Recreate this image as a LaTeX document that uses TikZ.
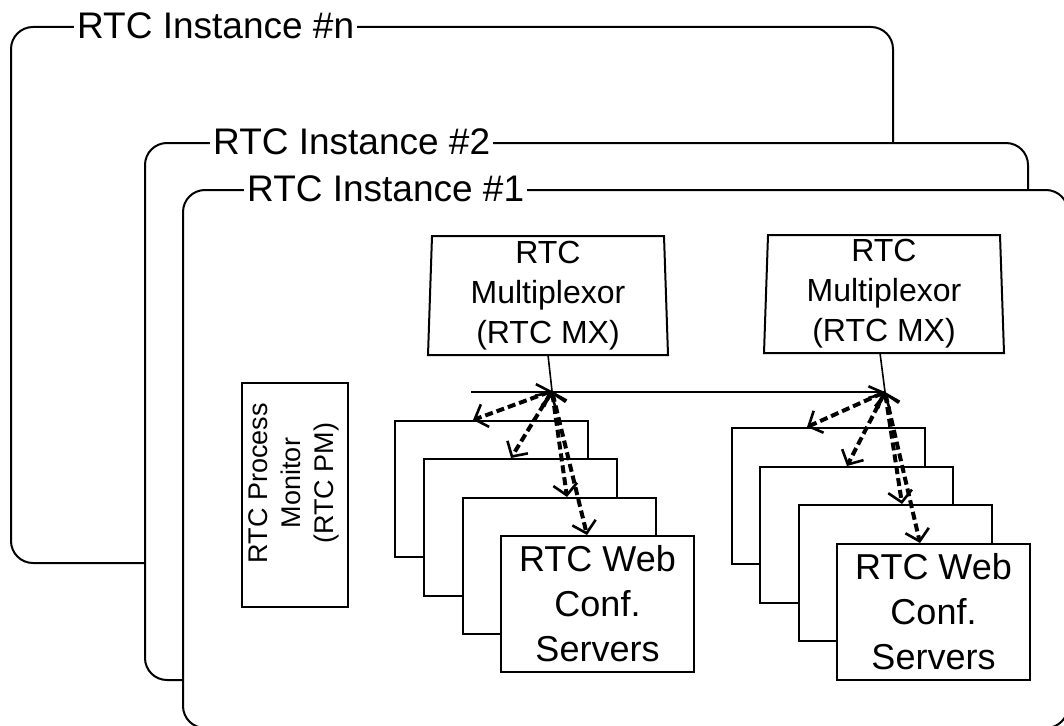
\documentclass[tikz,border=0pt]{standalone}
\usepackage{fontspec}
\setmainfont{Liberation Sans}
\usetikzlibrary{arrows.meta}
\begin{document}
\begin{tikzpicture}[x=1pt,y=-1pt,
 frame/.style={draw=black, line width=2pt, fill=white, rounded corners=22pt},
 ftitle/.style={anchor=base west, fill=white, inner xsep=3pt, inner ysep=0pt, font=\fontsize{37}{44}\selectfont},
 box/.style={draw=black, line width=2pt, fill=white, minimum width=193pt, minimum height=136pt, inner sep=0pt, anchor=north west},
 mxbox/.style={draw=black, line width=2pt, fill=white},
 mxtext/.style={align=center, font=\fontsize{32}{40}\selectfont},
 srvtext/.style={align=center, font=\fontsize{36}{45}\selectfont},
 link/.style={line width=1.6pt},
 bus/.style={line width=2pt},
 dlink/.style={line width=4pt, dash pattern=on 8pt off 4pt,
   {Straight Barb[length=11pt,width=24pt,line width=2.6pt]}-{Straight Barb[length=11pt,width=24pt,line width=2.6pt]}},
]
\useasboundingbox (0,0) rectangle (1064,725);

% instance frames
\draw[frame] (11,27) rectangle (893,563);
\node[ftitle] (tn) at (74,38) {RTC Instance \#n};
\draw[frame] (145,143) rectangle (1028,680);
\node[ftitle] (t2) at (210,154) {RTC Instance \#2};
\draw[frame] (183,190) rectangle (1068,728);
\node[ftitle] (t1) at (244,201) {RTC Instance \#1};

% process monitor
\node[draw, line width=2pt, minimum width=106pt, minimum height=224pt, inner sep=0pt] (pm) at (295,495) {};
\node[rotate=90, align=center, font=\fontsize{27}{33}\selectfont] (pmt) at (294,483) {RTC Process\\Monitor\\(RTC PM)};

% multiplexors
\draw[mxbox] (432,236) -- (664,236) -- (668,355) -- (428,355) -- cycle;
\node[mxtext] (mx1) at (548,296) {RTC\\Multiplexor\\(RTC MX)};
\draw[mxbox] (768,235) -- (1000,235) -- (1004,353) -- (764,353) -- cycle;
\node[mxtext] (mx2) at (884,294) {RTC\\Multiplexor\\(RTC MX)};

\coordinate (mx1b) at (548,355);
\coordinate (mx2b) at (880,353);
\coordinate (hub1) at (552,391);
\coordinate (hub2) at (885,392);
\coordinate (busL) at (471,392);
\coordinate (busR) at (885,392);
\draw[bus] (busL) -- (busR);
\draw[link] (mx1b) -- (hub1);
\draw[link] (mx2b) -- (hub2);

% left server stack
\node[box] (l1) at (394,420) {};
\node[box, minimum height=137pt] (l2) at (423,458) {};
\node[box] (l3) at (462,497) {};
\node[box, srvtext] (l4) at (500,535) {RTC Web\\Conf.\\Servers};

% right server stack
\node[box] (r1) at (731,427) {};
\node[box] (r2) at (759,466) {};
\node[box] (r3) at (798,504) {};
\node[box, srvtext] (r4) at (836,543) {RTC Web\\Conf.\\Servers};

% dashed links
\draw[dlink] (hub1) -- ([xshift=79pt]l1.north west);
\draw[dlink] (hub1) -- ([xshift=88pt]l2.north west);
\draw[dlink] (hub1) -- ([xshift=105pt]l3.north west);
\draw[dlink] (hub1) -- ([xshift=87pt]l4.north west);

\draw[dlink] (hub2) -- ([xshift=76pt]r1.north west);
\draw[dlink] (hub2) -- ([xshift=88pt]r2.north west);
\draw[dlink] (hub2) -- ([xshift=104pt]r3.north west);
\draw[dlink] (hub2) -- ([xshift=84pt]r4.north west);
\end{tikzpicture}
\end{document}
